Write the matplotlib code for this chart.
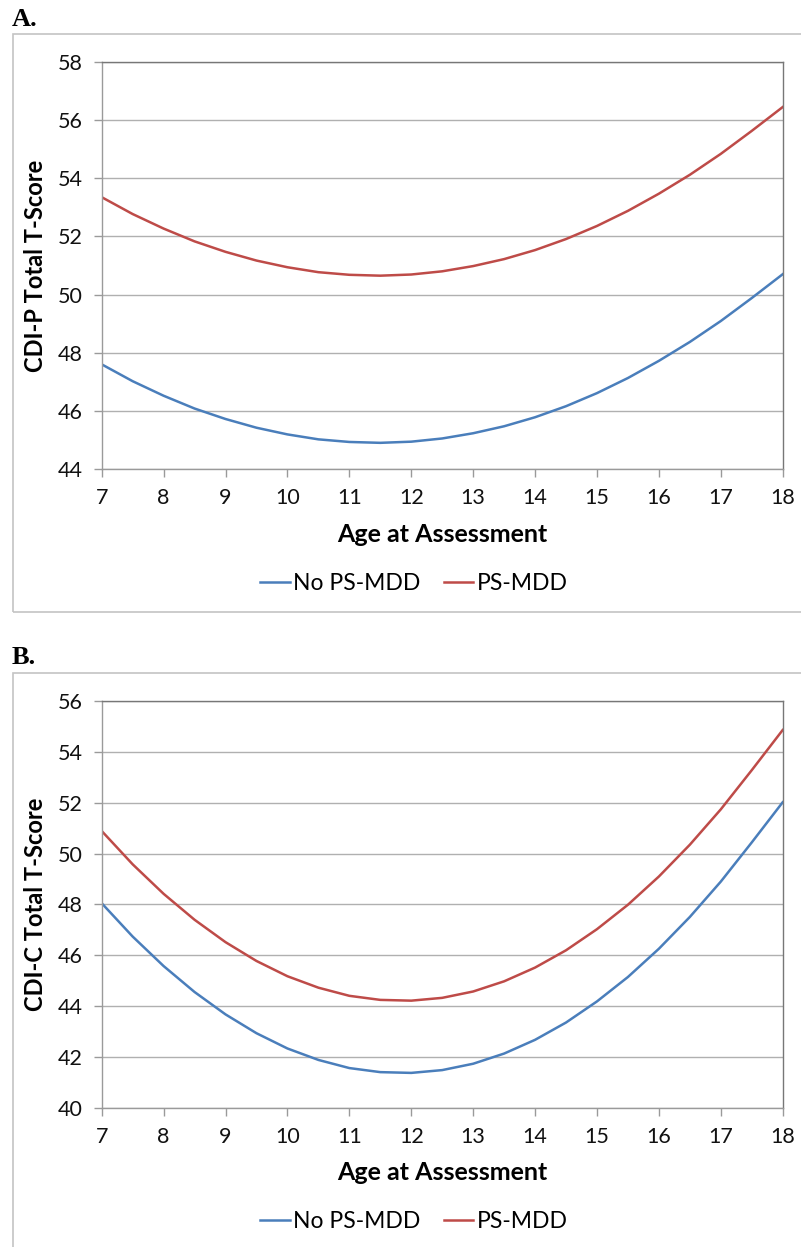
import matplotlib
matplotlib.use("Agg")
import matplotlib.pyplot as plt
from matplotlib.patches import Rectangle
from matplotlib.lines import Line2D

plt.rcParams['font.family'] = ['Lato', 'DejaVu Sans']

# ---- data ----
ages = [7, 7.5, 8, 8.5, 9, 9.5, 10, 10.5, 11, 11.5, 12, 12.5,
        13, 13.5, 14, 14.5, 15, 15.5, 16, 16.5, 17, 17.5, 18]

a_no_psmdd = [47.60, 47.02, 46.52, 46.08, 45.72, 45.42, 45.19, 45.02, 44.93, 44.90,
              44.94, 45.05, 45.23, 45.47, 45.78, 46.16, 46.61, 47.13, 47.72, 48.37,
              49.09, 49.88, 50.70]
a_psmdd = [53.35, 52.77, 52.27, 51.83, 51.47, 51.17, 50.94, 50.77, 50.68, 50.65,
           50.69, 50.80, 50.98, 51.22, 51.53, 51.91, 52.36, 52.88, 53.47, 54.12,
           54.84, 55.63, 56.45]

b_no_psmdd = [48.05, 46.74, 45.58, 44.56, 43.68, 42.94, 42.34, 41.89, 41.57, 41.41,
              41.38, 41.49, 41.74, 42.14, 42.68, 43.36, 44.19, 45.15, 46.26, 47.51,
              48.90, 50.44, 52.02]
b_psmdd = [50.89, 49.58, 48.42, 47.40, 46.52, 45.78, 45.18, 44.73, 44.41, 44.25,
           44.22, 44.33, 44.58, 44.98, 45.52, 46.20, 47.03, 47.99, 49.10, 50.35,
           51.74, 53.28, 54.86]

x_ticks = list(range(7, 19))
a_yticks = [44, 46, 48, 50, 52, 54, 56, 58]
b_yticks = [40, 42, 44, 46, 48, 50, 52, 54, 56]

series_names = ["No PS-MDD", "PS-MDD"]
series_colors = ["#4a7ebb", "#be4b48"]
panel_labels = ["A.", "B."]
y_titles = ["CDI-P Total T-Score", "CDI-C Total T-Score"]
x_title = "Age at Assessment"

# ---- figure ----
W, H = 801, 1247
fig = plt.figure(figsize=(W / 100, H / 100), dpi=100)

def fx(px):
    return px / W

def fy(py):
    return 1 - py / H

# panel frames
for top, bottom in [(34, 612), (673, 1260)]:
    fig.patches.append(Rectangle((fx(13), fy(bottom)), fx(820 - 13), (bottom - top) / H,
                                 transform=fig.transFigure, fill=False,
                                 edgecolor="#c4c4c4", linewidth=1.2, zorder=0))

panels = [
    dict(top=62, bottom=469, data=(a_no_psmdd, a_psmdd), yticks=a_yticks,
         label_y=20, xlab_y=534, leg_y=584),
    dict(top=701, bottom=1108, data=(b_no_psmdd, b_psmdd), yticks=b_yticks,
         label_y=658, xlab_y=1172, leg_y=1222),
]

left_px, right_px = 101.7, 782.7
for i, p in enumerate(panels):
    ax = fig.add_axes([fx(left_px), fy(p['bottom']), (right_px - left_px) / W,
                       (p['bottom'] - p['top']) / H])
    for vals, name, col in zip(p['data'], series_names, series_colors):
        ax.plot(ages, vals, color=col, linewidth=1.8, label=name,
                solid_joinstyle='round')
    ax.set_xlim(7, 18)
    ax.set_ylim(p['yticks'][0], p['yticks'][-1])
    ax.set_xticks(x_ticks)
    ax.set_yticks(p['yticks'])
    ax.grid(axis='y', color="#b0b0b0", linewidth=1.0)
    ax.set_axisbelow(True)
    for s in ['left', 'bottom']:
        ax.spines[s].set_color("#9a9a9a")
        ax.spines[s].set_linewidth(1.0)
    for s in ['top', 'right']:
        ax.spines[s].set_color("#777777")
        ax.spines[s].set_linewidth(1.0)
    ax.tick_params(axis='both', direction='out', length=5.5, width=1.0,
                   color="#9a9a9a", labelsize=15.5, pad=8, labelcolor="#111111")

    fig.text(fx(12), fy(p['label_y']), panel_labels[i], fontsize=19, fontweight='bold',
             family='Liberation Serif', ha='left', va='center')
    fig.text(fx(36), fy((p['top'] + p['bottom']) / 2), y_titles[i], rotation=90,
             fontsize=17, fontweight='bold', ha='center', va='center')
    fig.text(fx((left_px + right_px) / 2), fy(p['xlab_y']), x_title,
             fontsize=18, fontweight='bold', ha='center', va='center')

    handles = [Line2D([], [], color=c, linewidth=1.8) for c in series_colors]
    fig.legend(handles, series_names, loc='center',
               bbox_to_anchor=(fx(414), fy(p['leg_y'])), ncol=2, frameon=False,
               fontsize=16.5, handlelength=1.3, handletextpad=0.15, columnspacing=1.0)

fig.savefig("out.png", dpi=100)
